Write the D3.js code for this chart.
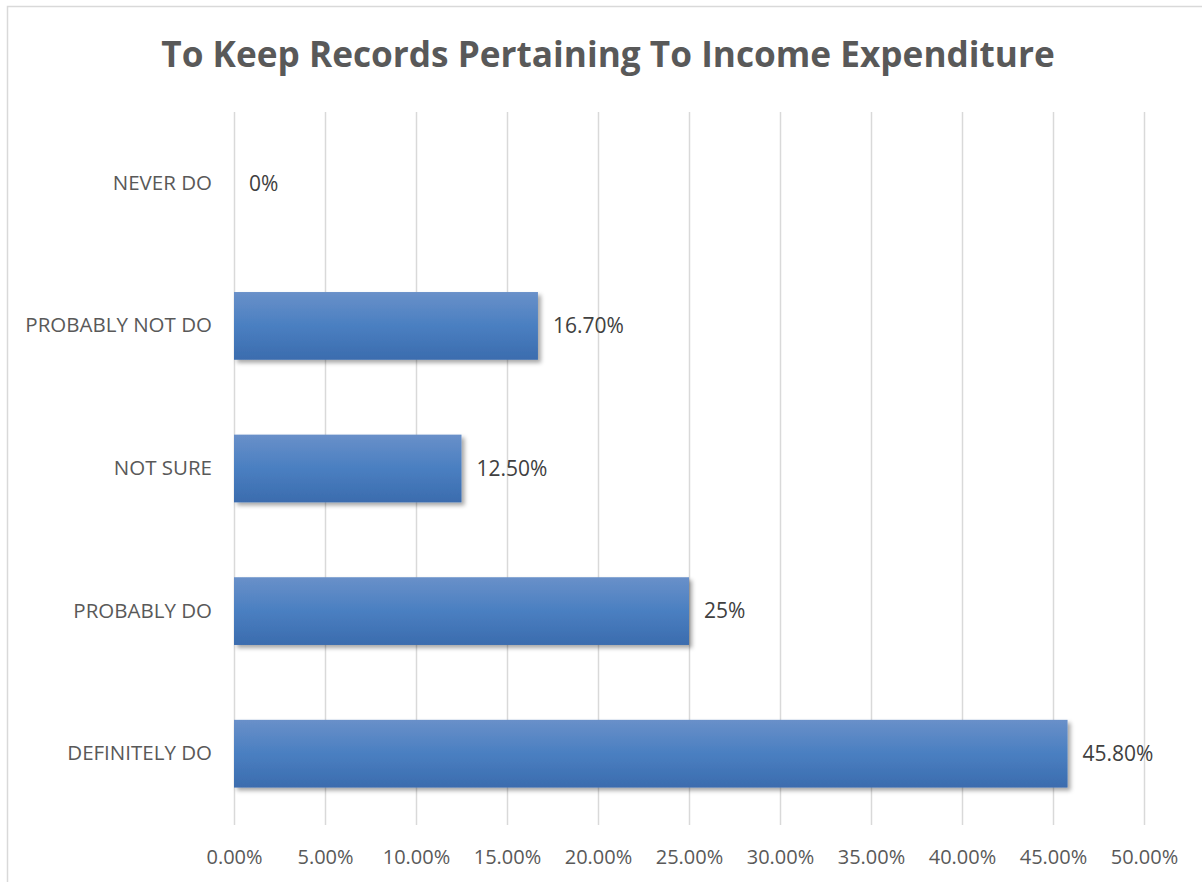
<!DOCTYPE html>
<html>
<head>
<meta charset="utf-8">
<script src="https://cdn.jsdelivr.net/npm/d3@7"></script>
<style>
  html, body { margin: 0; padding: 0; background: #fff; }
  svg { display: block; }
</style>
</head>
<body>
<svg id="chart" width="1202" height="882"></svg>
<script>
// Survey responses, listed top to bottom
const categories = ["NEVER DO", "PROBABLY NOT DO", "NOT SURE", "PROBABLY DO", "DEFINITELY DO"];
const values = [0, 16.7, 12.5, 25, 45.8];
const valueLabels = ["0%", "16.70%", "12.50%", "25%", "45.80%"];
const tickValues = [0, 5, 10, 15, 20, 25, 30, 35, 40, 45, 50];
const tickLabels = ["0.00%", "5.00%", "10.00%", "15.00%", "20.00%", "25.00%", "30.00%", "35.00%", "40.00%", "45.00%", "50.00%"];
const title = "To Keep Records Pertaining To Income Expenditure";

const svg = d3.select("#chart");
const font = "'Open Sans', 'Noto Sans', sans-serif";

// Chart frame
svg.append("rect")
  .attr("x", 7.5).attr("y", 6.5)
  .attr("width", 1210).attr("height", 900)
  .attr("fill", "#fff")
  .attr("stroke", "#d9d9d9").attr("stroke-width", 1.5);

const defs = svg.append("defs");
const grad = defs.append("linearGradient")
  .attr("id", "barFill").attr("x1", 0).attr("y1", 0).attr("x2", 0).attr("y2", 1);
grad.append("stop").attr("offset", "0%").attr("stop-color", "#6990c9");
grad.append("stop").attr("offset", "50%").attr("stop-color", "#4a7fc1");
grad.append("stop").attr("offset", "100%").attr("stop-color", "#3b6cae");

const shadow = defs.append("filter").attr("id", "barShadow")
  .attr("x", "-5%").attr("y", "-20%").attr("width", "115%").attr("height", "150%");
shadow.append("feDropShadow")
  .attr("dx", 3).attr("dy", 3).attr("stdDeviation", 2.2)
  .attr("flood-color", "#000").attr("flood-opacity", 0.35);

const x = d3.scaleLinear().domain([0, 50]).range([234, 1144]);
const y = d3.scaleBand().domain(categories).range([112, 825]).paddingInner(0.525).paddingOuter(0.2625);

// Vertical gridlines
svg.append("g").selectAll("line")
  .data(tickValues).join("line")
  .attr("x1", d => x(d) + 0.5).attr("x2", d => x(d) + 0.5)
  .attr("y1", 112).attr("y2", 825)
  .attr("stroke", "#d9d9d9").attr("stroke-width", 1.5);

// Horizontal axis labels
const xAxis = d3.axisBottom(x)
  .tickValues(tickValues)
  .tickFormat((d, i) => tickLabels[i])
  .tickSize(0).tickPadding(0);
const gx = svg.append("g").attr("transform", "translate(0,857)").call(xAxis);
gx.select(".domain").remove();
gx.selectAll("text")
  .attr("font-family", font).attr("font-size", 20).attr("fill", "#595959")
  .attr("dy", "0.35em");

// Category labels
const yAxis = d3.axisLeft(y).tickSize(0).tickPadding(0);
const gy = svg.append("g").attr("transform", "translate(212,0)").call(yAxis);
gy.select(".domain").remove();
gy.selectAll("text")
  .attr("font-family", font).attr("font-size", 20.5).attr("fill", "#595959");

// Bars
svg.append("g").selectAll("rect")
  .data(values).join("rect")
  .attr("x", x(0))
  .attr("y", (d, i) => y(categories[i]))
  .attr("width", d => x(d) - x(0))
  .attr("height", y.bandwidth())
  .attr("fill", "url(#barFill)")
  .attr("filter", "url(#barShadow)");

// Value labels
svg.append("g").selectAll("text")
  .data(values).join("text")
  .attr("x", d => x(d) + 15)
  .attr("y", (d, i) => y(categories[i]) + y.bandwidth() / 2)
  .attr("dy", "0.35em")
  .attr("font-family", font).attr("font-size", 21).attr("fill", "#404040")
  .text((d, i) => valueLabels[i]);

// Title
svg.append("text")
  .attr("x", 608).attr("y", 67)
  .attr("text-anchor", "middle")
  .attr("font-family", font).attr("font-size", 35.2).attr("font-weight", "bold")
  .attr("fill", "#595959")
  .text(title);
</script>
</body>
</html>
